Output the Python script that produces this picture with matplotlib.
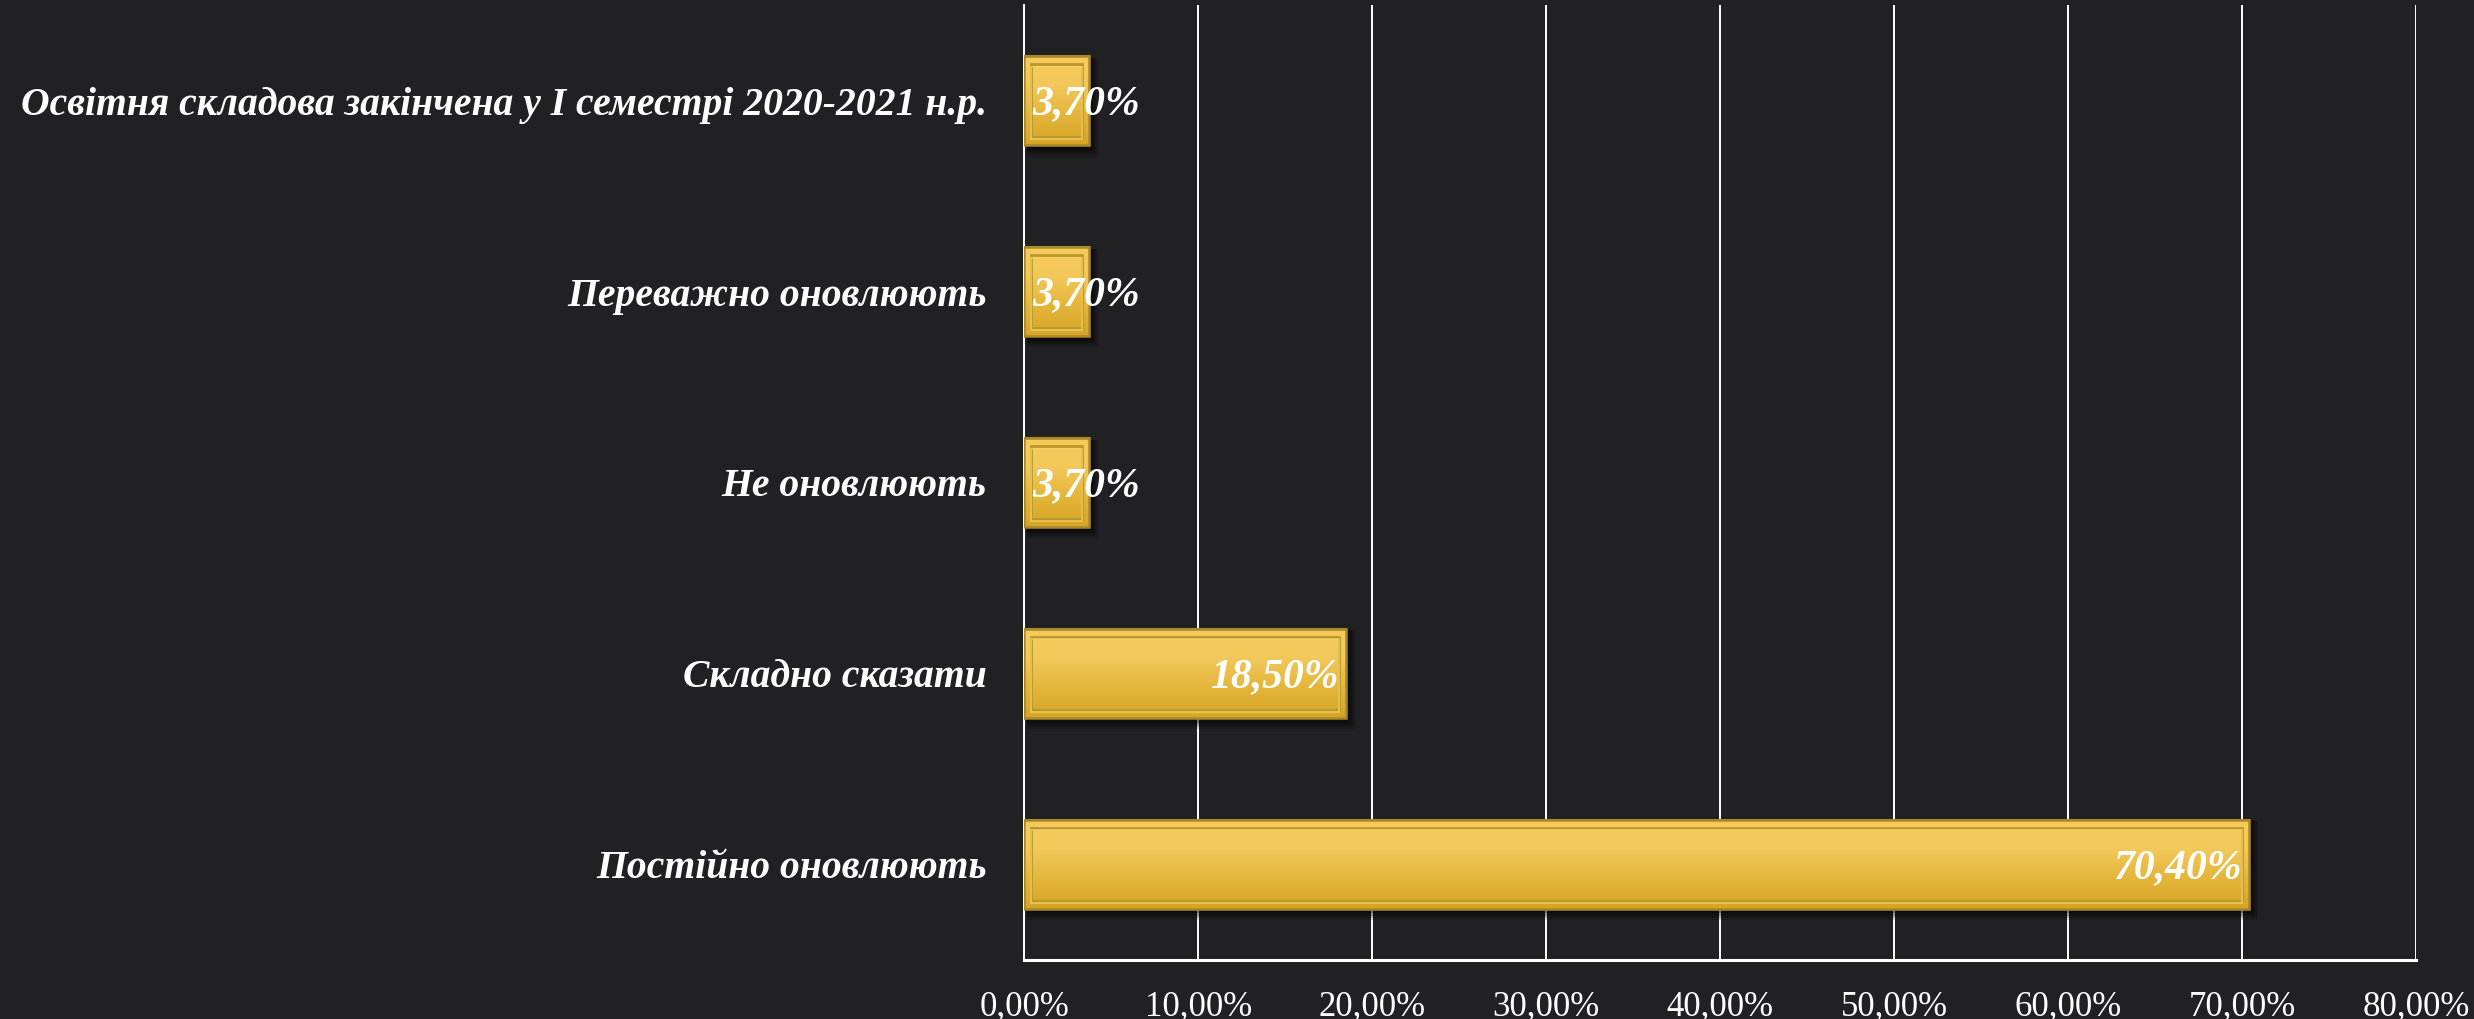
import numpy as np
import matplotlib
matplotlib.use("Agg")
from matplotlib import pyplot as plt
from matplotlib.patches import Rectangle
from matplotlib.colors import LinearSegmentedColormap

# категорії зверху вниз, як на слайді
categories = [
    "Освітня складова закінчена у I семестрі 2020-2021 н.р.",
    "Переважно оновлюють",
    "Не оновлюють",
    "Складно сказати",
    "Постійно оновлюють",
]
values = [3.70, 3.70, 3.70, 18.50, 70.40]
value_labels = ["3,70%", "3,70%", "3,70%", "18,50%", "70,40%"]
xticks = [0, 10, 20, 30, 40, 50, 60, 70, 80]
xtick_labels = ["0,00%", "10,00%", "20,00%", "30,00%", "40,00%",
                "50,00%", "60,00%", "70,00%", "80,00%"]

bg = "#212123"
serif = ["Liberation Serif", "DejaVu Serif"]

fig = plt.figure(figsize=(24.74, 10.19), dpi=100, facecolor=bg)
ax = fig.add_axes([0.414, 0.058, 0.5626, 0.937])
ax.set_facecolor(bg)

ypos = np.arange(len(categories))[::-1]
bar_h = 0.47

# тінь під стовпчиками
for v, y in zip(values, ypos):
    for k, a in enumerate([0.12, 0.15, 0.2, 0.25]):
        d = (4 - k) * 0.012
        ax.add_patch(Rectangle((0 + 0.15, y - bar_h / 2 - d - 0.01), v + d * 8, bar_h + d,
                               facecolor="black", edgecolor="none", alpha=a, zorder=2))

bars = ax.barh(ypos, values, height=bar_h, color="#e6b73c", edgecolor="#b0912e",
               linewidth=1.5, zorder=3)

# золотий градієнт
gold = LinearSegmentedColormap.from_list("gold", ["#d6a526", "#e3b53a", "#f3c85a", "#f6cb5c"])
grad = np.linspace(0, 1, 256).reshape(-1, 1)
for b in bars:
    x0, y0 = b.get_x(), b.get_y()
    w, h = b.get_width(), b.get_height()
    im = ax.imshow(grad, extent=[x0, x0 + w, y0, y0 + h], origin="lower", aspect="auto",
                   cmap=gold, zorder=3.5)
    im.set_clip_path(b)
    # рамка-фаска всередині
    ix, iy = 0.4, 0.045
    ax.add_patch(Rectangle((x0 + ix, y0 + iy), w - 2 * ix, h - 2 * iy, facecolor="none",
                           edgecolor="#b9982f", linewidth=2.0, zorder=4))
    ax.add_patch(Rectangle((x0 + ix, y0 + iy - 0.012), w - 2 * ix, h - 2 * iy, facecolor="none",
                           edgecolor="#f7d266", linewidth=1.2, zorder=4, alpha=0.8))
    ax.add_patch(Rectangle((x0, y0), w, h, facecolor="none", edgecolor="#a8892a",
                           linewidth=1.8, zorder=4.5))

# підписи значень
for v, y, lab in zip(values, ypos, value_labels):
    if v > 10:
        ax.text(v - 0.45, y - 0.02, lab, ha="right", va="center", color="white",
                fontsize=30, fontweight="bold", fontstyle="italic", family=serif, zorder=6)
    else:
        ax.text(0.45, y - 0.02, lab, ha="left", va="center", color="white",
                fontsize=30, fontweight="bold", fontstyle="italic", family=serif, zorder=6)

ax.set_xlim(0, 80)
ax.set_ylim(-0.5, 4.5)
ax.set_xticks(xticks)
ax.set_xticklabels(xtick_labels, color="white", fontsize=25, family=serif)
ax.set_yticks(ypos)
ax.set_yticklabels(categories, color="white", fontsize=28.5, fontweight="bold",
                   fontstyle="italic", family=serif)
ax.tick_params(axis="y", length=0, pad=27)
ax.tick_params(axis="x", length=0, pad=22)
ax.grid(axis="x", color="white", linewidth=1.4, zorder=1)
ax.set_axisbelow(True)
for s in ["top", "right"]:
    ax.spines[s].set_visible(False)
ax.spines["left"].set_color("white")
ax.spines["left"].set_linewidth(1.4)
ax.spines["bottom"].set_color("white")
ax.spines["bottom"].set_linewidth(2.2)

fig.savefig("out.png", dpi=100, facecolor=bg)
